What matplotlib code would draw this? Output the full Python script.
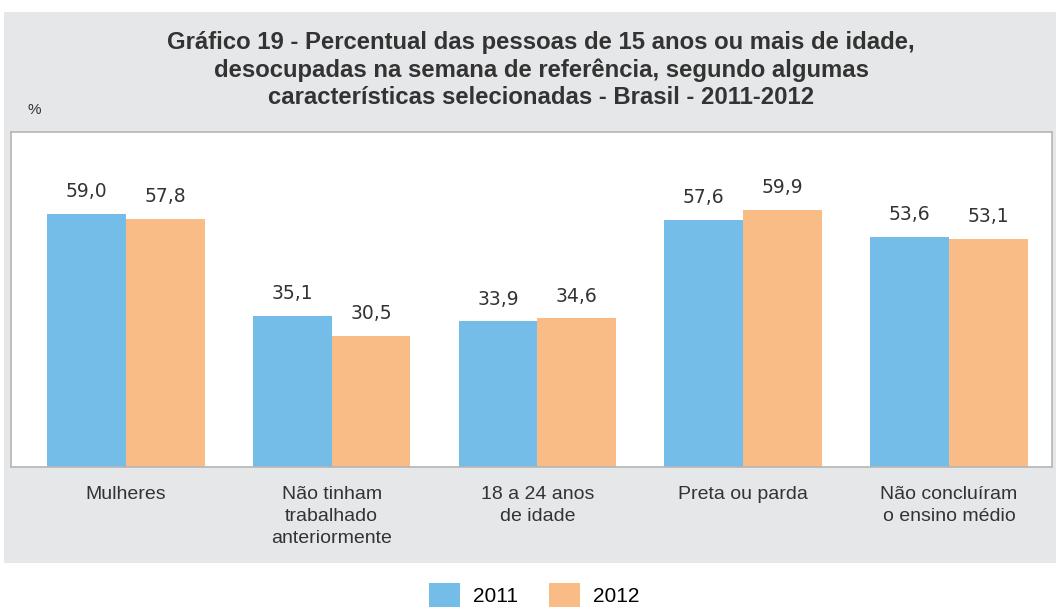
import matplotlib.pyplot as plt
import numpy as np
from matplotlib.patches import Rectangle, Patch

categorias = ['Mulheres', 'Não tinham\ntrabalhado\nanteriormente', '18 a 24 anos\nde idade',
              'Preta ou parda', 'Não concluíram\no ensino médio']
v2011 = [59.0, 35.1, 33.9, 57.6, 53.6]
v2012 = [57.8, 30.5, 34.6, 59.9, 53.1]
anos = ['2011', '2012']

azul = '#74bde8'
laranja = '#f9bc86'
cinza = '#e6e7e9'
texto = '#333333'
fonte = ['Liberation Sans', 'DejaVu Sans']

fig = plt.figure(figsize=(10.56, 6.08), dpi=100)
fig.patches.append(Rectangle((4 / 1056, 45 / 608), 1 - 4 / 1056, (563 - 12) / 608,
                             transform=fig.transFigure, facecolor=cinza, edgecolor='none', zorder=0))

ax = fig.add_axes([11 / 1056, 141 / 608, 1041 / 1056, 335 / 608])
ax.set_zorder(2)
ax.set_facecolor('white')
x = np.arange(len(categorias))
w = 0.383
ax.bar(x - w / 2, v2011, w, color=azul, zorder=2)
ax.bar(x + w / 2, v2012, w, color=laranja, zorder=2)
for xi, a, b in zip(x, v2011, v2012):
    ax.text(xi - w / 2, a + 3.0, f'{a:.1f}'.replace('.', ','), ha='center', va='bottom',
            fontsize=13.5, color=texto, family='DejaVu Sans')
    ax.text(xi + w / 2, b + 3.0, f'{b:.1f}'.replace('.', ','), ha='center', va='bottom',
            fontsize=13.5, color=texto, family='DejaVu Sans')

ax.set_xlim(-0.558, 4.5)
ax.set_ylim(0, 78)
ax.set_xticks(x)
ax.set_xticklabels(categorias, fontsize=14, color=texto, family=fonte, linespacing=1.35)
ax.tick_params(axis='x', length=0, pad=14)
ax.set_yticks([])
for s in ax.spines.values():
    s.set_color('#b5b5b5')
    s.set_linewidth(1.2)

fig.text(541 / 1056, 1 - 70 / 608, 'Gráfico 19 - Percentual das pessoas de 15 anos ou mais de idade,\n'
         'desocupadas na semana de referência, segundo algumas\n'
         'características selecionadas - Brasil - 2011-2012',
         ha='center', va='center', fontsize=17.2, fontweight='bold', color=texto,
         family=fonte, linespacing=1.25)
fig.text(27 / 1056, 1 - 110 / 608, '%', ha='left', va='center', fontsize=11, color=texto, family=fonte)

handles = [Patch(facecolor=azul), Patch(facecolor=laranja)]
fig.legend(handles, anos, loc='center', bbox_to_anchor=(534 / 1056, 1 - 595 / 608), ncol=2,
           frameon=False, handlelength=1.5, handleheight=1.4,
           columnspacing=1.5, handletextpad=0.6, prop={'family': fonte, 'size': 15})

plt.savefig('out.png', dpi=100)
